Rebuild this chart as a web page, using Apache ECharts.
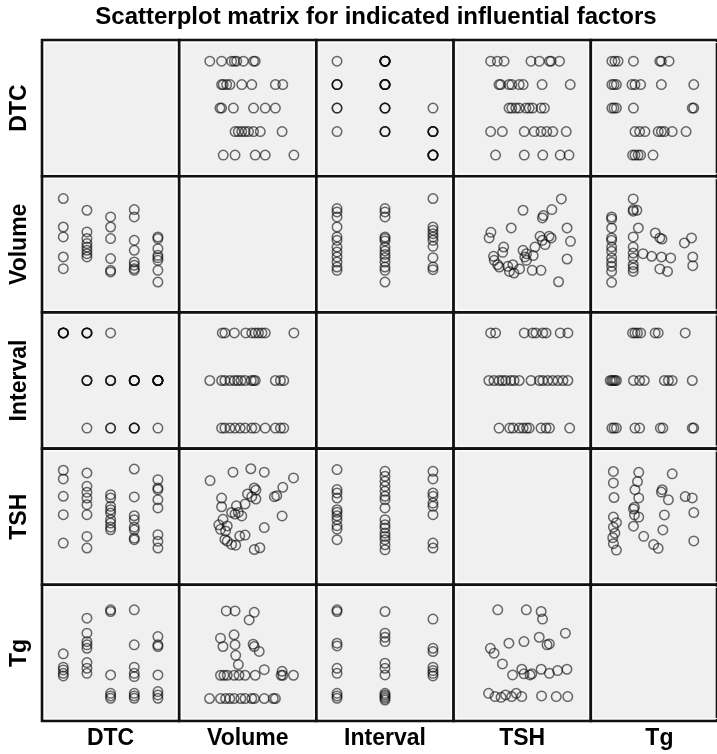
<!DOCTYPE html>
<html>
<head>
<meta charset="utf-8">
<script src="https://cdn.jsdelivr.net/npm/echarts@6/dist/echarts.min.js"></script>
<style>
html,body{margin:0;padding:0;background:#fff;}
#chart{width:717px;height:754px;}
</style>
</head>
<body>
<div id="chart"></div>
<script>
// ---- Variables and axis ranges ----
const variables = ['DTC', 'Volume', 'Interval', 'TSH', 'Tg'];
const axisMin = [0.1, 0, 0.57, 0, 0];
const axisMax = [5.9, 100, 3.43, 100, 100];

// ---- Pairwise observations ----
// Volume values grouped by DTC level 1..5
const dtcVolume = [
  [83.6, 62.7, 55.4, 40.7, 32.1],
  [75, 59.1, 54.2, 50.5, 48, 45.6, 43.1, 40.7],
  [70.1, 62.7, 54.2, 39.5, 30.9, 29.7],
  [75.5, 70.1, 52.9, 45.6, 37, 34.6, 32.1, 30.9],
  [55.4, 54.2, 46.8, 41.9, 40.2, 38.2, 30.9, 22.3]
];
// Interval values grouped by DTC level 1..5
const dtcInterval = [
  [3, 3, 3, 3, 3],
  [1, 2, 2, 2, 3, 3, 3, 3],
  [1, 1, 2, 2, 2, 3],
  [1, 1, 1, 2, 2, 2, 2, 2],
  [1, 2, 2, 2, 2, 2, 2, 2]
];
// TSH values grouped by DTC level 1..5
const dtcTsh = [
  [84.1, 77.7, 65, 51.5, 30.6],
  [82.1, 72.3, 67.9, 63.7, 58.8, 51.5, 35.5, 27],
  [66.2, 63.7, 57.6, 55.1, 52.7, 47.8, 45.3, 42.4, 40.4],
  [85, 64.5, 50.7, 47.8, 42.4, 40.4, 34.3, 33.1],
  [77.2, 71.1, 69.9, 62.5, 56.4, 36.8, 31.9, 27]
];
// Tg values grouped by DTC level 1..5
const dtcTg = [
  [49.3, 39.5, 37.5, 35, 33.1],
  [75.5, 64.5, 58.3, 55.9, 53.4, 42.9, 38.7, 35],
  [81.6, 80.4, 33.8, 20.3, 18.4, 16.7],
  [81.6, 55.9, 39.5, 35, 32.6, 20.3, 18.4, 16.7],
  [62, 55.9, 54.7, 33.8, 21.6, 19.1, 16.7]
];
// Volume values grouped by Interval level 1..3
const intervalVolume = [
  [76.2, 73.8, 70.1, 62.7, 55.4, 52.9, 48, 44.4, 40.7, 37, 33.3, 30.9],
  [76.2, 73.8, 70.1, 55.4, 54.2, 52.5, 48, 45.1, 42.6, 40.2, 37, 33.3, 30.9, 22.3],
  [83.6, 62.7, 60.3, 57.8, 55.4, 52.9, 48.5, 40.2, 33.3, 31.4]
];
// TSH values grouped by Interval level 1..3
const intervalTsh = [
  [84.6, 69.9, 67.4, 63.7, 55.1, 53.2, 50.7, 47.8, 43.4, 40.9, 33.1],
  [83.3, 79.7, 76, 72.3, 68.6, 65, 62.5, 56.4, 47.8, 44.1, 41.7, 38, 35.5, 33.1, 29.4, 25.7],
  [83.3, 77.7, 67.4, 65, 60, 57.6, 51.5, 30.6, 27]
];
// Tg values grouped by Interval level 1..3
const intervalTg = [
  [81.6, 80.4, 57.1, 55.1, 38.7, 35, 20.3, 18.4, 16.7],
  [80.4, 64.5, 61.5, 58.3, 42.4, 38.7, 33.8, 20.3, 19.1, 17.9, 16.7, 15.4],
  [74.8, 53.4, 51, 39.5, 37, 35, 33.1]
];
// [Volume, TSH]
const volumeTsh = [
  [58.8,27.2],[54.7,25.9],[62,42],[75,50.6],[69.4,64.7],[71.1,65.4],[75.5,71.6],[83.3,78.5],
  [62,82.7],[52.2,85.2],[39.2,82.7],[22.5,76.5],[48,36.5],[44.1,35.8],[41.2,29.1],[38.2,29.6],
  [35,32.1],[33.3,33.3],[33.8,39.5],[30.1,40.7],[28.9,44],[35,43.2],[31.9,48.1],[45.6,50.6],
  [40.7,51.9],[38.2,53.1],[41.7,58],[48,59.3],[30.9,57.3],[30.9,63.7],[55.9,63],[52.9,64.7],
  [49.8,66.7],[54.7,71.1],[55.9,69.6],[43.1,53.1]
];
// [Volume, Tg]
const volumeTg = [
  [70.1,16.5],[68.6,16.5],[62,16.5],[54.7,16.5],[52.9,16.5],[48,16.5],[44.9,16.5],[40,16.5],
  [36.8,16.5],[33.8,16.5],[30.1,16.5],[22.1,16.5],
  [83.3,33.6],[75.5,33.6],[74.3,33.6],[55.4,33.6],[48,33.6],[43.6,33.6],[40,33.6],[35,33.6],
  [32.6,33.6],[30.1,33.6],
  [62,37.7],[75,36.5],[43.1,41.4],[41.2,48.2],[58.3,51.1],[54.7,54.7],[53.9,56.4],[40.7,56],
  [31.9,54.7],[30.1,60.8],[40,63.3],[51,74.2],[54.7,79.8],[40.7,80.8],[34.3,80.8]
];
// [TSH, Tg]
const tshTg = [
  [32.2,81.6],[53,81.6],[63.8,80.4],[64.8,74.8],[81.5,64.5],[62.4,61.5],[51.3,58.3],[40.3,57.1],
  [68.1,55.9],[69.8,56.6],[26.8,53.4],[29.5,49.8],[35.6,41.9],[43,33.8],[49.7,38],[51.3,34.6],
  [55.7,33.8],[57,34.6],[63.8,38],[69.8,35],[75.8,37],[82.6,38],
  [25.5,20.3],[30.2,17.9],[34.6,17.4],[37.9,19.1],[42.3,17.9],[45.6,20.3],[49.7,17.9],
  [64.1,18.4],[74.8,17.9],[83.2,17.9]
];

// ---- Build pair table: key "a-b" (a<b) -> list of [value_a, value_b] ----
function fromGroups(groups, swap) {
  const out = [];
  groups.forEach((vals, i) => vals.forEach(v => out.push(swap ? [v, i + 1] : [i + 1, v])));
  return out;
}
const pairs = {
  '0-1': fromGroups(dtcVolume),
  '0-2': fromGroups(dtcInterval),
  '0-3': fromGroups(dtcTsh),
  '0-4': fromGroups(dtcTg),
  '1-2': fromGroups(intervalVolume, true),
  '1-3': volumeTsh,
  '1-4': volumeTg,
  '2-3': fromGroups(intervalTsh),
  '2-4': fromGroups(intervalTg),
  '3-4': tshTg
};

const CELL_W = 137.2, CELL_H = 136.2, LEFT = 42, TOP = 40;
const grids = [], xAxes = [], yAxes = [], series = [];
const graphics = [];
for (let r = 0; r < 5; r++) {
  for (let c = 0; c < 5; c++) {
    const k = r * 5 + c;
    const gl = LEFT + c * CELL_W, gt = TOP + r * CELL_H;
    grids.push({
      left: gl, top: gt, width: CELL_W, height: CELL_H,
      show: true, backgroundColor: '#f0f0f0', borderColor: '#111', borderWidth: 2.6
    });
    graphics.push({
      type: 'rect', z: 1, silent: true,
      shape: { x: gl + 2.5, y: gt + 2.5, width: CELL_W - 5, height: CELL_H - 5 },
      style: { fill: 'none', stroke: '#ffffff', lineWidth: 1 }
    });
    xAxes.push({ gridIndex: k, type: 'value', min: axisMin[c], max: axisMax[c], show: false });
    yAxes.push({ gridIndex: k, type: 'value', min: axisMin[r], max: axisMax[r], show: false });
    if (r === c) continue;
    let data;
    if (c < r) data = pairs[c + '-' + r];
    else data = pairs[r + '-' + c].map(p => [p[1], p[0]]);
    series.push({
      type: 'scatter', xAxisIndex: k, yAxisIndex: k, data: data, z: 3,
      symbol: 'circle', symbolSize: 9.5, silent: true,
      itemStyle: { color: 'rgba(0,0,0,0)', borderColor: 'rgba(10,10,10,0.75)', borderWidth: 1.5 }
    });
  }
}

const FONT = "'Liberation Sans', Arial, Helvetica, sans-serif";
graphics.push({
  type: 'text', x: 376, y: 17,
  style: { text: 'Scatterplot matrix for indicated influential factors', font: 'bold 24px ' + FONT,
    fill: '#000', textAlign: 'center', textVerticalAlign: 'middle' }
});
variables.forEach((v, i) => {
  graphics.push({
    type: 'text', x: LEFT + (i + 0.5) * CELL_W, y: 739,
    style: { text: v, font: 'bold 23px ' + FONT, fill: '#000', textAlign: 'center', textVerticalAlign: 'middle' }
  });
  graphics.push({
    type: 'text', x: 20, y: TOP + (i + 0.5) * CELL_H, rotation: Math.PI / 2,
    style: { text: v, font: 'bold 23px ' + FONT, fill: '#000', textAlign: 'center', textVerticalAlign: 'middle' }
  });
});

const chart = echarts.init(document.getElementById('chart'), null, { renderer: 'canvas' });
chart.setOption({
  animation: false,
  backgroundColor: '#ffffff',
  grid: grids, xAxis: xAxes, yAxis: yAxes, series: series,
  graphic: graphics
});
</script>
</body>
</html>
